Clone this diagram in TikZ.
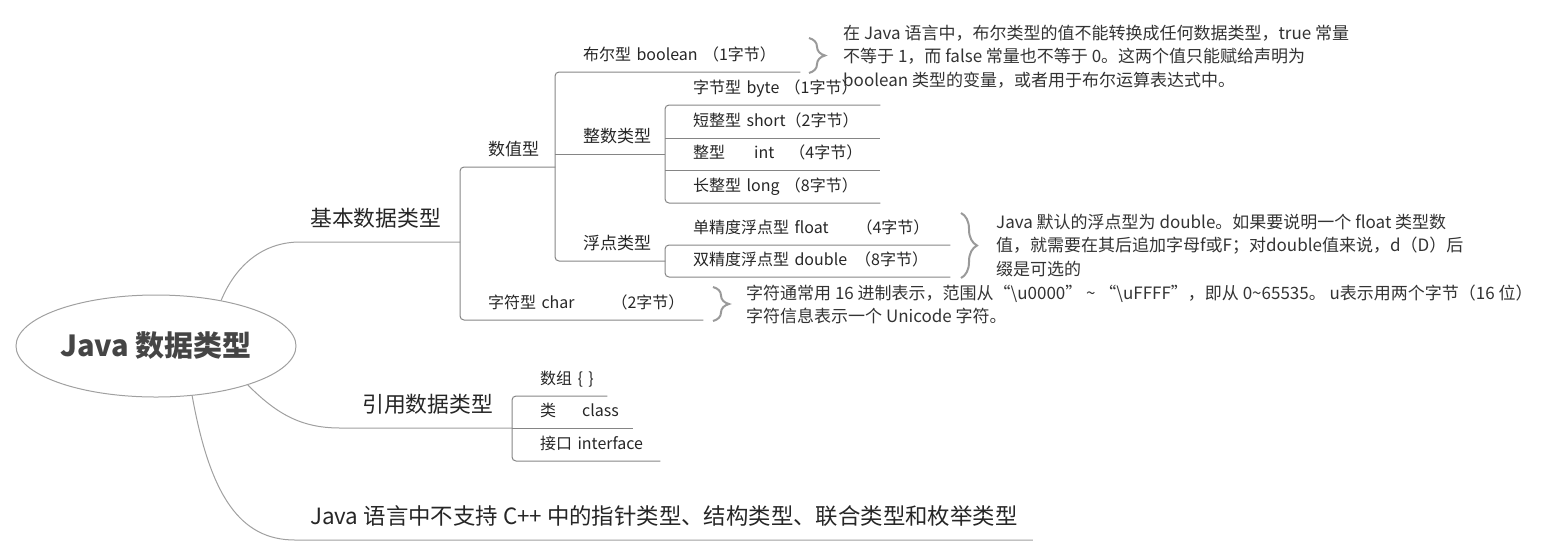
\documentclass[tikz,border=0pt]{standalone}
\usepackage{fontspec}
\setmainfont{Noto Sans CJK SC}
\usetikzlibrary{shapes.geometric,decorations.pathreplacing}
\definecolor{treegray}{HTML}{858585}
\definecolor{curvegray}{HTML}{A0A0A0}
\definecolor{bracegray}{HTML}{9A9A9A}
\definecolor{textdark}{HTML}{262626}
\definecolor{notegray}{HTML}{333333}
\definecolor{rootgray}{HTML}{454545}
\tikzset{
  tree/.style={draw=treegray, line width=1pt, rounded corners=4pt},
  branch/.style={draw=curvegray, line width=1pt},
  topic/.style={anchor=south west, inner sep=0pt, align=left, text width=#1,
    text depth=11.5pt, text=textdark, font=\fontsize{16}{19}\selectfont,
    execute at begin node=\hspace*{28pt}},
  midtopic/.style={topic=#1, font=\fontsize{17}{20}\selectfont},
  maintopic/.style={anchor=south west, inner sep=0pt, text depth=15pt,
    text=textdark, font=\fontsize{21.8}{26}\selectfont},
  note/.style={anchor=north west, inner sep=0pt, align=left, text=notegray,
    font=\fontsize{17}{23.5}\selectfont},
  curly/.style={draw=bracegray, line width=2pt, decorate,
    decoration={brace, amplitude=#1}},
}
\begin{document}
\begin{tikzpicture}[x=1pt, y=-1pt]
  \useasboundingbox (0,0) rectangle (1565,558);
  % centre
  \node[ellipse, draw=curvegray, line width=1pt, minimum width=280pt, minimum height=102pt,
    inner sep=0pt, text=rootgray, font=\fontsize{29}{34}\selectfont\bfseries] (root) at (156,346) {Java 数据类型};
  % main branches
  \node[maintopic] (basic) at (310,242) {基本数据类型};
  \node[maintopic] (ref) at (362,428) {引用数据类型};
  \node[maintopic, font=\fontsize{22.4}{26}\selectfont] (nosup) at (310,540) {Java 语言中不支持 C++ 中的指针类型、结构类型、联合类型和枚举类型};
  % basic types
  \node[midtopic=95] (num) at (460,167) {数值型};
  \node[topic=243] (char) at (460,320) {字符型 char\hspace{37pt}（2字节）};
  \node[topic=245] (bool) at (555,72) {布尔型 boolean （1字节）};
  \node[midtopic=110] (inttype) at (555,154) {整数类型};
  \node[midtopic=110] (flttype) at (555,261) {浮点类型};
  \node[topic=215] (byte) at (665,105) {字节型 byte （1字节）};
  \node[topic=215] (short) at (665,138) {短整型 short（2字节）};
  \node[topic=215] (int) at (665,170) {整型\hspace{29pt}int\hspace{15pt}（4字节）};
  \node[topic=215] (long) at (665,203) {长整型 long （8字节）};
  \node[topic=285] (float) at (665,245) {单精度浮点型 float\hspace{28pt}（4字节）};
  \node[topic=285] (double) at (665,277) {双精度浮点型 double\hspace{8pt}（8字节）};
  % reference types
  \node[topic=95] (array) at (512,396) {数组 \{ \}};
  \node[topic=121] (class) at (512,428) {类\hspace{26pt}class};
  \node[topic=148] (iface) at (512,461) {接口 interface};
  % notes
  \node[note] (boolnote) at (843,24.5) {在 Java 语言中，布尔类型的值不能转换成任何数据类型，true 常量\\不等于 1，而 false 常量也不等于 0。这两个值只能赋给声明为\\boolean 类型的变量，或者用于布尔运算表达式中。};
  \node[note] (fltnote) at (996,213.5) {Java 默认的浮点型为 double。如果要说明一个 float 类型数\\值，就需要在其后追加字母f或F；对double值来说，d（D）后\\缀是可选的};
  \node[note] (charnote) at (746,284.5) {字符通常用 16 进制表示，范围从“\textbackslash u0000” \textasciitilde{} “\textbackslash uFFFF”，即从 0\textasciitilde 65535。 u表示用两个字节（16 位）\\字符信息表示一个 Unicode 字符。};
  % curves from the centre
  \draw[branch] (root.35) .. controls +(14,-34) and +(-38,0) .. ([xshift=-10pt]basic.south west) -- (basic.south west -| num.south west);
  \draw[branch] (root.-23) .. controls +(28,28) and +(-40,0) .. ([xshift=-22pt]ref.south west) -- (ref.south west -| array.south west);
  \draw[branch] (root.-54) .. controls +(18,100) and +(-55,0) .. ([xshift=-15pt]nosup.south west) -- ([xshift=15pt]nosup.south east);
  % trees
  \draw[tree] (num.south east) -- (num.south west) -- (char.south west) -- (char.south east);
  \draw[tree] (bool.south east) -- (bool.south west) -- (flttype.south west) -- (flttype.south east);
  \draw[tree] (inttype.south west) -- (inttype.south east);
  \draw[tree] (byte.south east) -- (byte.south west) -- (long.south west) -- (long.south east);
  \draw[tree] (short.south west) -- (short.south east);
  \draw[tree] (int.south west) -- (int.south east);
  \draw[tree] (float.south east) -- (float.south west) -- (double.south west) -- (double.south east);
  \draw[tree] (array.south east) -- (array.south west) -- (iface.south west) -- (iface.south east);
  \draw[tree] (class.south west) -- (class.south east);
  % braces
  \draw[curly=16pt] (809,38) -- (809,73);
  \draw[curly=16pt] (961,213) -- (961,278);
  \draw[curly=16pt] (713,287) -- (713,321);
\end{tikzpicture}
\end{document}
